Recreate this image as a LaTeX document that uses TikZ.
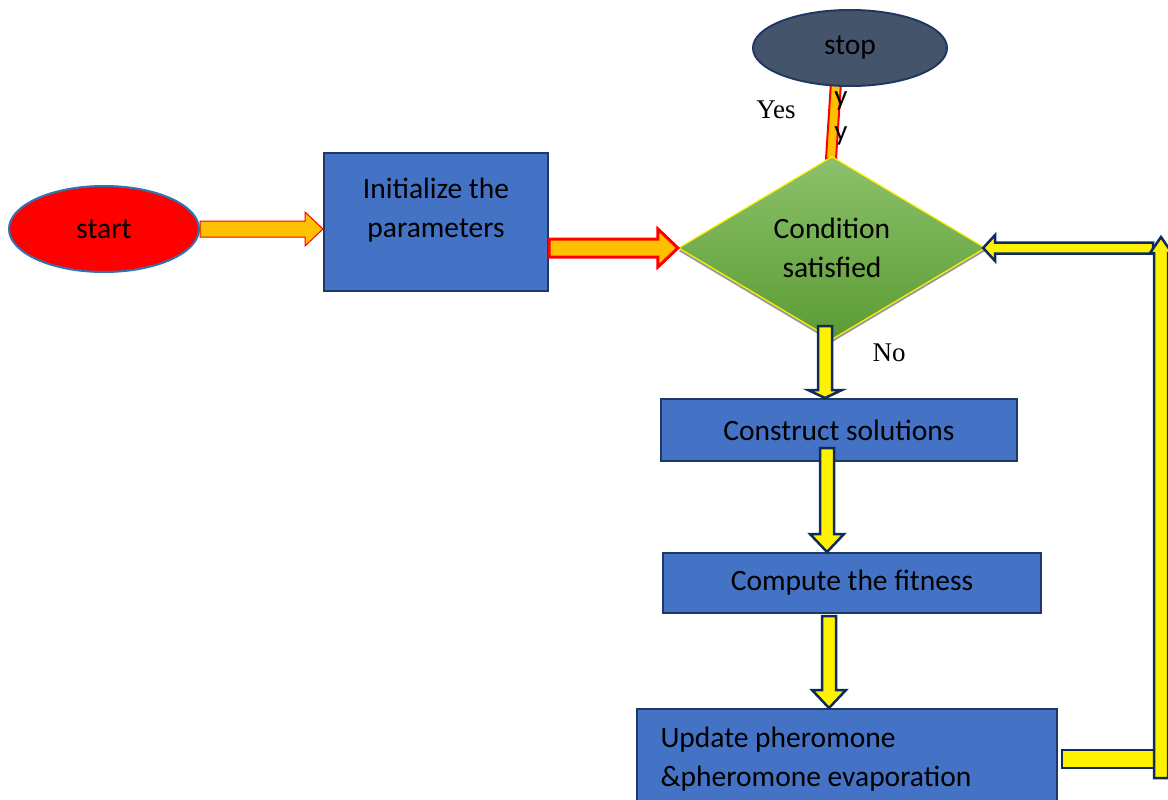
\documentclass[tikz,border=0pt]{standalone}
\usepackage{fontspec}
\newfontfamily\calfont{Carlito}
\newfontfamily\serfont{Liberation Serif}
\usetikzlibrary{shapes.geometric,calc,shadows}
\pgfdeclarelayer{bg}\pgfsetlayers{bg,main}
\definecolor{boxblue}{HTML}{4472C4}
\definecolor{boxline}{HTML}{1F3864}
\definecolor{stopfill}{HTML}{44546A}
\definecolor{stopline}{HTML}{1F3864}
\definecolor{startline}{HTML}{2E75B6}
\definecolor{amber}{HTML}{FFC000}
\definecolor{navy}{HTML}{0E2A5E}
\definecolor{gtop}{HTML}{8DC16B}
\definecolor{gbot}{HTML}{5B9C34}
\newcommand\barrow[6]{%
  \coordinate (bac) at ($(#3)!#6!(#2)$);
  \filldraw[#1] ($(#2)!#4!90:(#3)$) -- ($(bac)!#4!90:(#3)$) -- ($(bac)!#5!90:(#3)$) -- (#3) -- ($(bac)!#5!-90:(#3)$) -- ($(bac)!#4!-90:(#3)$) -- ($(#2)!#4!-90:(#3)$) -- cycle;}
\begin{document}
\begin{tikzpicture}[x=1pt,y=-1pt,
  lbl/.style={font=\calfont\fontsize{29.5}{39}\selectfont, text=black},
  boxn/.style={draw=boxline, line width=2pt, fill=boxblue, inner sep=0pt},
  yarrow/.style={draw=navy, line width=2.5pt, fill=yellow, line join=miter},
  oarrow/.style={draw=red, line width=1pt, fill=amber, line join=miter},
  rarrow/.style={draw=red, line width=3pt, fill=amber, line join=miter},
  serlbl/.style={font=\serfont\fontsize{27}{30}\selectfont, text=black}]
\useasboundingbox (0,0) rectangle (1168,800);
\clip (0,0) rectangle (1168,800);

% nodes
\node[ellipse, draw=startline, line width=2pt, fill=red, minimum width=190, minimum height=86, inner sep=0pt, lbl] (start) at (104,229) {start};
\node[boxn, minimum width=224, minimum height=138, label={[lbl,align=center,yshift=12pt]center:{Initialize the\\parameters}}] (init) at (436,222) {};
\node[diamond, draw=yellow, line width=1.2pt, top color=gtop, bottom color=gbot, drop shadow={shadow xshift=0pt, shadow yshift=-3pt, fill=gray!80, opacity=1}, minimum width=307, minimum height=183, inner sep=0pt, lbl, align=center] (cond) at (832,248) {Condition\\satisfied};
\node[ellipse, fill=stopfill, draw=stopline, line width=2pt, minimum width=194, minimum height=76, inner sep=0pt, lbl] (stop) at (850,48) {stop};
\node[boxn, minimum width=356, minimum height=62, lbl] (cons) at (839,430) {Construct solutions};
\node[boxn, minimum width=378, minimum height=60, lbl] (comp) at (852,583) {Compute the fitness};
\node[boxn, minimum width=420, minimum height=120, label={[lbl, align=left, anchor=west, xshift=21pt, yshift=10pt]west:{Update pheromone\\\&pheromone evaporation}}] (upd) at (847,769) {};

\node[serlbl] (yes) at (776,110) {Yes};
\node[serlbl] (no) at (889,353) {No};
\node[font=\calfont\fontsize{29}{30}\selectfont] (y1) at (841,101) {y};
\node[font=\calfont\fontsize{29}{30}\selectfont] (y2) at (841,136) {y};

% connectors
\coordinate (ya) at ($(cond.north)+(-1,3)$);
\coordinate (yb) at ($(stop.south)+(-13,-20)$);
\begin{pgfonlayer}{bg}
\barrow{draw=red, line width=2pt, fill=amber, line join=miter}{ya}{yb}{5pt}{8pt}{10pt}
\end{pgfonlayer}

\barrow{oarrow}{start.east}{init.west|-start.east}{8pt}{17pt}{18pt}
\barrow{rarrow}{init.east|-cond.west}{cond.west}{9pt}{19pt}{20pt}

\coordinate (na) at ($(cond.south)+(-7,-14)$);
\barrow{yarrow}{na}{na|-cons.north}{7pt}{17pt}{8pt}
\coordinate (ca) at ($(cons.south)+(-12,-14)$);
\barrow{yarrow}{ca}{ca|-comp.north}{7pt}{17pt}{18pt}
\coordinate (pa) at ($(comp.south)+(-23,2)$);
\barrow{yarrow}{pa}{pa|-upd.north}{7pt}{17pt}{18pt}

% feedback loop
\coordinate (fb1) at ($(upd.east)+(103,-10)$);
\coordinate (fb2) at (fb1|-cond.east);
\coordinate (fbtop) at ($(fb2)+(0,-11)$);
\coordinate (fbbot) at ($(fb1)+(0,19)$);
\coordinate (fbh) at ($(fb2)+(-8,0)$);
\coordinate (fbtip) at ($(cond.east)+(-3,0)$);
\draw[yarrow] ($(upd.east|-fb1)+(4,-9)$) rectangle ($(fb1)+(-7,9)$);
\barrow{yarrow}{fbh}{fbtip}{5.5pt}{13pt}{12pt}
\barrow{yarrow}{fbbot}{fbtop}{7pt}{11pt}{16pt}
\end{tikzpicture}
\end{document}
